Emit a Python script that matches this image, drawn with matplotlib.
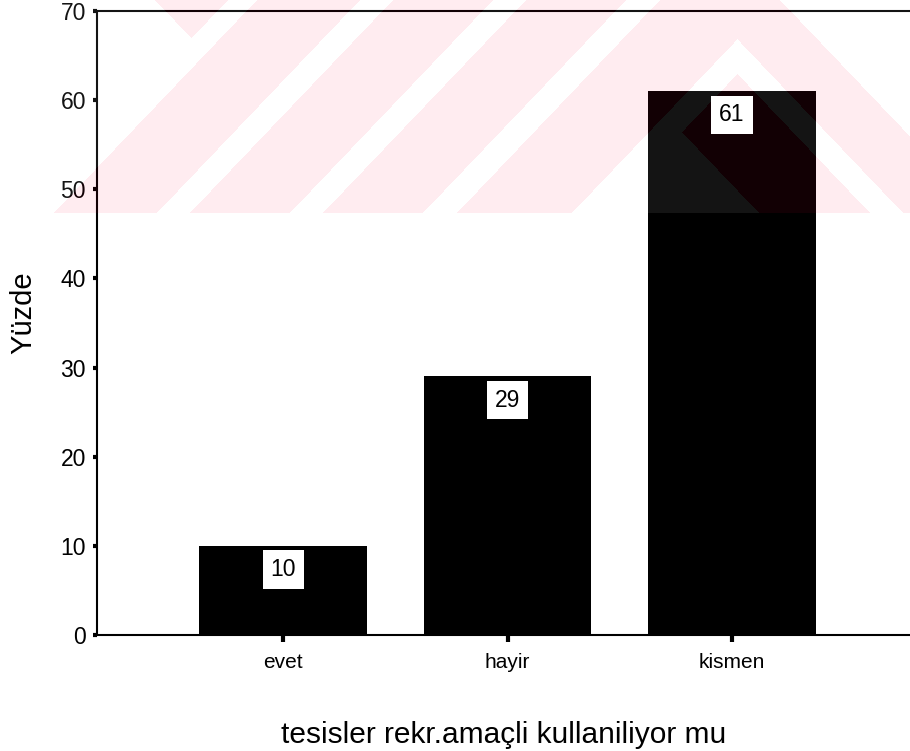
import matplotlib
matplotlib.use('Agg')
import matplotlib.pyplot as plt
import numpy as np

plt.rc('font', family='Liberation Sans')

categories = ['evet', 'hayir', 'kismen']
percent = [10, 29, 61]
yticks = [0, 10, 20, 30, 40, 50, 60, 70]

fig = plt.figure(figsize=(9.10, 7.51), dpi=100)
ax = fig.add_axes([97/910, 116/751, 1 - 97/910, 624/751])

x = np.arange(len(categories))
ax.bar(x, percent, width=0.745, color='black', zorder=2)

for xi, v in zip(x, percent):
    ax.annotate(str(v), (xi, v), xytext=(0, -17), textcoords='offset points',
                ha='center', va='center', fontsize=16.5, zorder=5,
                bbox=dict(boxstyle='square,pad=0.34', fc='white', ec='none'))

# scanned-page watermark: pale red diagonal stripes across the top band
H, W = 213, 910
yy, xx = np.mgrid[0:H, 0:W] + 0.5
c = xx + 0.953 * yy
d = xx - 0.953 * yy
white = (d < 155) & (c < 255)
white |= (c >= 228) & (c < 257)
for lo, hi in [(360, 393), (493, 526), (626, 660)]:
    white |= (c >= lo) & (c < hi)
t1 = (c >= 775) & (d <= 700)
t2 = (c >= 808) & (d <= 667)
t3 = (c >= 808) & (d <= 556)
white |= (t1 & ~t2) | t3
white |= d >= 780
wm = np.zeros((H, W, 4))
wm[~white] = [1.0, 0.0, 0.25, 0.075]
wm[white] = [1.0, 1.0, 1.0, 0.085]
ax.imshow(wm, extent=[0, 1, 1 - H/751, 1], transform=fig.transFigure,
          aspect='auto', interpolation='nearest', zorder=3, clip_on=False)

ax.set_xlim(-0.829, 2.793)
ax.set_ylim(0, 70)
ax.set_xticks(x)
ax.set_xticklabels(categories)
ax.set_yticks(yticks)

ax.spines['right'].set_visible(False)
for s in ['left', 'bottom', 'top']:
    ax.spines[s].set_linewidth(1.5)
ax.tick_params(axis='y', direction='out', length=3, width=3, pad=5, labelsize=16.5)
ax.tick_params(axis='x', direction='out', length=5, width=3, pad=8, labelsize=15)

ax.set_ylabel('Yüzde', fontsize=21)
ax.yaxis.set_label_coords(-0.074, 0.516)
ax.set_xlabel('tesisler rekr.amaçli kullaniliyor mu', fontsize=21.5, labelpad=35)

plt.savefig('out.png', dpi=100)
